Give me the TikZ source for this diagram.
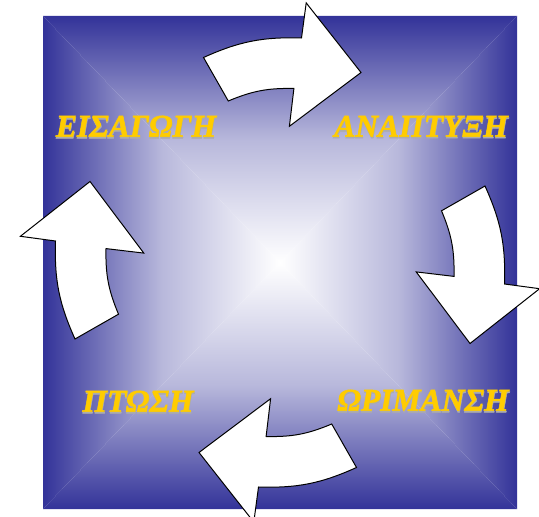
\documentclass[tikz,border=0pt]{standalone}
\usepackage{fontspec}
\setmainfont{Liberation Serif}[BoldItalicFeatures={FakeBold=1.6}]
\usetikzlibrary{calc}
\definecolor{deepblue}{RGB}{51,51,153}
\definecolor{gold}{RGB}{255,204,0}
\newcommand{\shadowed}[1]{\makebox[0pt][l]{\hspace{0.2pt}\raisebox{-0.8pt}{\color{gray!65}#1}}#1}

\begin{document}
\begin{tikzpicture}[
    x=0.5pt, y=-0.5pt,
    stage/.style={text=gold, inner sep=0pt,
        font=\fontsize{15.8}{18}\selectfont\bfseries\itshape},
    cyclearrow/.style={draw=black, fill=white, line width=0.5pt, line join=miter}
]
    \useasboundingbox (0,0) rectangle (539,517);
    \coordinate (tl) at (43,16);
    \coordinate (tr) at (517,16);
    \coordinate (br) at (517,509);
    \coordinate (bl) at (43,509);
    \coordinate (c) at (280,262.5);

    %% rectangular gradient, white in the middle
    \shade[top color=deepblue, bottom color=white, middle color=deepblue!35!white] (tl) -- (tr) -- (c) -- cycle;
    \shade[top color=white, bottom color=deepblue, middle color=deepblue!35!white] (bl) -- (br) -- (c) -- cycle;
    \shade[left color=deepblue, right color=white, middle color=deepblue!35!white] (tl) -- (bl) -- (c) -- cycle;
    \shade[left color=white, right color=deepblue, middle color=deepblue!35!white] (tr) -- (br) -- (c) -- cycle;

    %% cycle arrows
    \foreach \ang in {0,-90,-180,-270}{
        \draw[cyclearrow, shift={(c)}, rotate=\ang]
            (-76.5,-205) to[bend left=13] (21.5,-224.5) -- (26.2,-259.6) -- (81,-190)
            -- (9.4,-136.2) -- (13.9,-174) to[bend right=12] (-51.7,-161.5) -- cycle;
    }

    %% stages
    \node[stage] (intro) at (136,127) {\shadowed{ΕΙΣΑΓΩΓΗ}};
    \node[stage] (growth) at (421,127) {\shadowed{ΑΝΑΠΤΥΞΗ}};
    \node[stage] (maturity) at (423,401) {\shadowed{ΩΡΙΜΑΝΣΗ}};
    \node[stage] (decline) at (138,402) {\shadowed{ΠΤΩΣΗ}};
\end{tikzpicture}
\end{document}
